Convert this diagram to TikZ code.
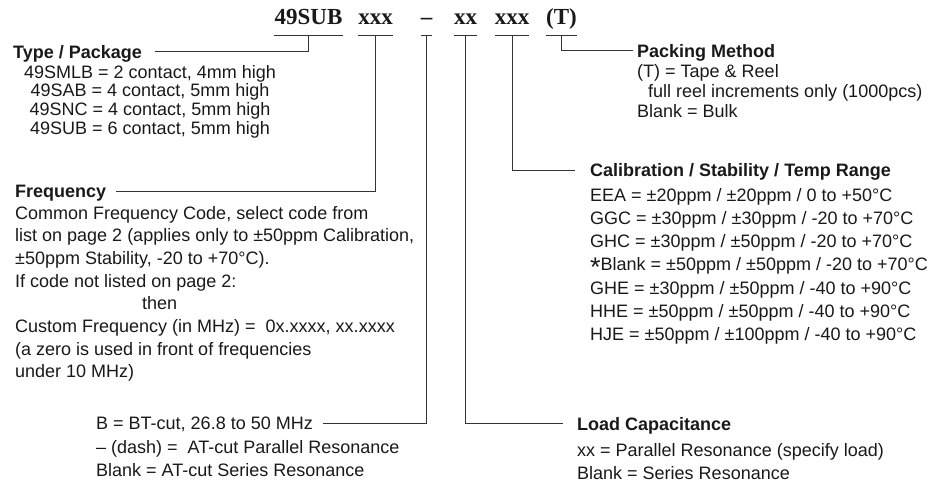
\documentclass[tikz,border=0pt]{standalone}
\usepackage{fontspec}
\setmainfont{Liberation Sans}
\newfontfamily\codefont{Liberation Serif}[Ligatures=TeX]
\usepackage{tikz}
\usetikzlibrary{positioning,calc}
\tikzset{
  code/.style ={font={\fontsize{23}{23}\selectfont\codefont\bfseries},inner xsep=0pt,inner ysep=0pt,text depth=11pt,anchor=base},
  lbl/.style  ={inner sep=0pt,text height=13pt,text depth=0pt,anchor=west},
  head/.style ={lbl,font={\fontsize{18}{22}\selectfont\bfseries}},
  body/.style ={font={\fontsize{18}{#1}\selectfont},inner sep=0pt,align=left,anchor=north west,execute at begin node=\strut},
  body/.default=23,
  lead/.style ={draw=black!80,line width=0.8pt},
}

\begin{document}
\begin{tikzpicture}[x=1pt,y=-1pt,font=\fontsize{18}{22}\selectfont,text=black!90]
  \useasboundingbox (0,0) rectangle (949,485);
  % part number
  \node[code] (hbase) at (308.5,24){49SUB};  \node[code] (hfreq) at (375.5,24){xxx};
  \node[code] (hcut)  at (426.5,24){–};      \node[code] (hload) at (465.5,24){xx};
  \node[code] (hcal)  at (512,24){xxx};      \node[code] (hpack) at (561.5,24){(T)};
  \foreach \n in {hbase,hfreq,hcut,hload,hcal,hpack}{\draw[lead] (\n.south west)--(\n.south east);}
  % left side
  \node[head] (typehd) at (13,51.5){Type / Package};
  \node[body=18.8,anchor=north,align=center] (typebd) at (150,64.8){49SMLB = 2 contact, 4mm high\\49SAB = 4 contact, 5mm high\\49SNC = 4 contact, 5mm high\\49SUB = 6 contact, 5mm high};
  \node[head] (freqhd) at (15,191){Frequency};
  \node[body=22.7] (freqbd) at (15,205.8){Common Frequency Code, select code from\\list on page 2 (applies only to ±50ppm Calibration,\\±50ppm Stability, -20 to +70°C).\\If code not listed on page 2:\\\hspace*{127pt}then\\Custom Frequency (in MHz) = \ 0x.xxxx, xx.xxxx\\(a zero is used in front of frequencies\\under 10 MHz)};
  \node[lbl] (bcut) at (96,423){B = BT-cut, 26.8 to 50 MHz};
  \node[body] (cutbd) at (96,440){-- (dash) = \ AT-cut Parallel Resonance\\Blank = AT-cut Series Resonance};
  % right side
  \node[head] (packhd) at (637,50.5){Packing Method};
  \node[body=20] (packbd) at (637,64.2){(T) = Tape \& Reel\\\hspace*{11pt}full reel increments only (1000pcs)\\Blank = Bulk};
  \node[head] (calhd) at (590,170){Calibration / Stability / Temp Range};
  \node[body=23.2] (calbd) at (590,188){EEA = ±20ppm / ±20ppm / 0 to +50°C\\GGC = ±30ppm / ±30ppm / -20 to +70°C\\GHC = ±30ppm / ±50ppm / -20 to +70°C\\\raisebox{-6pt}{\fontsize{27}{18}\selectfont*}Blank = ±50ppm / ±50ppm / -20 to +70°C\\GHE = ±30ppm / ±50ppm / -40 to +90°C\\HHE = ±50ppm / ±50ppm / -40 to +90°C\\HJE = ±50ppm / ±100ppm / -40 to +90°C};
  \node[head] (loadhd) at (577,423.5){Load Capacitance};
  \node[body] (loadbd) at (577,443.5){xx = Parallel Resonance (specify load)\\Blank = Series Resonance};
  % leaders
  \draw[lead] (hbase.south) |- ([xshift=13pt]typehd.east);
  \draw[lead] (hfreq.south) |- ([xshift=10pt]freqhd.east);
  \draw[lead] (hcut.south)  |- ([xshift=10pt]bcut.east);
  \draw[lead] (hload.south) |- ([xshift=-14pt]loadhd.west);
  \draw[lead] (hcal.south)  |- ([xshift=-15pt]calhd.west);
  \draw[lead] (hpack.south) |- ([xshift=-4pt]packhd.west);
\end{tikzpicture}
\end{document}
